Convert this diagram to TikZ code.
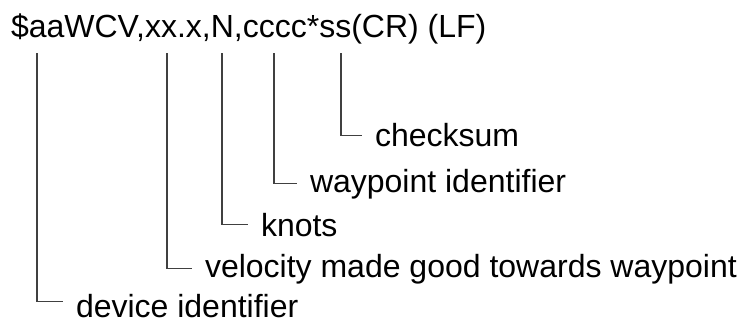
\documentclass[tikz,border=0pt]{standalone}
\usepackage{fontspec}
\setmainfont{Liberation Sans}
\begin{document}
\begin{tikzpicture}[x=1bp,y=-1bp,
  lbl/.style={anchor=base west,inner sep=0pt,outer sep=0pt,font=\fontsize{32bp}{38bp}\selectfont},
  conn/.style={draw=black!75,line width=1.1bp}]
\useasboundingbox (0,0) rectangle (740,322);
\node[lbl] (head) at (11,37.5) {\$aaWCV,xx.x,N,cccc*ss(CR) (LF)};
\coordinate (tdev) at (37,53);
\coordinate (tvel) at (167,53);
\coordinate (tkn) at (222,53);
\coordinate (twp) at (274,53);
\coordinate (tcs) at (341,53);
\node[lbl] (cs) at (375,146.7) {checksum};
\node[lbl] (wp) at (310,192) {waypoint identifier};
\node[lbl] (kn) at (261,236) {knots};
\node[lbl] (vel) at (205,277) {velocity made good towards waypoint};
\node[lbl] (dev) at (76,317.5) {device identifier};
\draw[conn] (tcs) |- ([xshift=-13bp]cs.west);
\draw[conn] (twp) |- ([xshift=-13bp]wp.west);
\draw[conn] (tkn) |- ([xshift=-13bp]kn.west);
\draw[conn] (tvel) |- ([xshift=-13bp]vel.west);
\draw[conn] (tdev) |- ([xshift=-13bp,yshift=4.5bp]dev.west);
\end{tikzpicture}
\end{document}
